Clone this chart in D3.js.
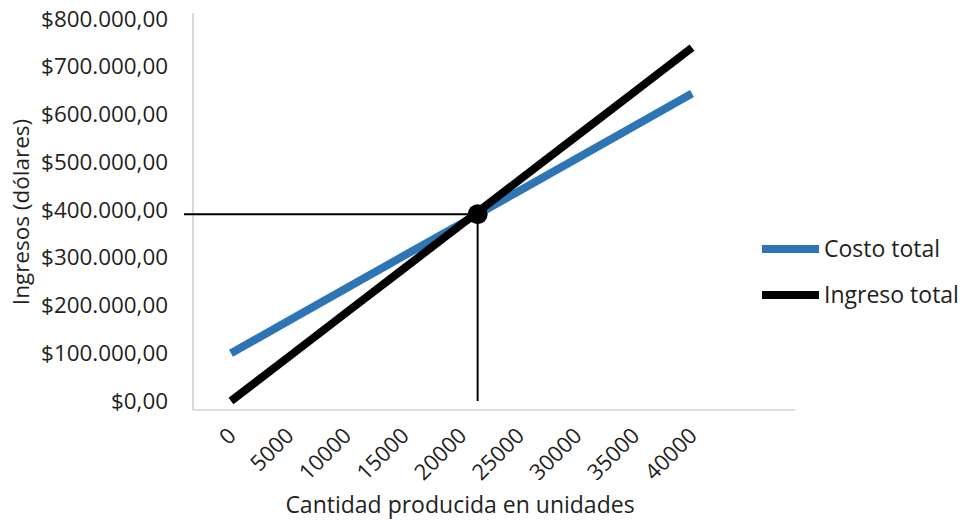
<!DOCTYPE html>
<html>
<head>
<meta charset="utf-8">
<script src="https://cdn.jsdelivr.net/npm/d3@7"></script>
<style>
  html, body { margin: 0; padding: 0; background: #fff; }
  svg { display: block; font-family: "Open Sans", "Noto Sans", sans-serif; }
</style>
</head>
<body>
<svg id="chart" width="969" height="520"></svg>
<script>
// Units produced (category axis)
const units = [0, 5000, 10000, 15000, 20000, 25000, 30000, 35000, 40000];
// Total cost in dollars at each production level
const totalCost = [100000, 168000, 236000, 304000, 372000, 440000, 508000, 576000, 644000];
// Total revenue in dollars at each production level
const totalRevenue = [0, 92500, 185000, 277500, 370000, 462500, 555000, 647500, 740000];
// Break-even point: [units, dollars]
const breakEven = [21400, 391000];
// Y axis tick values
const yTicks = [0, 100000, 200000, 300000, 400000, 500000, 600000, 700000, 800000];
const seriesNames = ["Costo total", "Ingreso total"];
const seriesColors = ["#2e75b6", "#000000"];

const svg = d3.select("#chart");

const x = d3.scalePoint().domain(units).range([231, 692]);
// Continuous position for values between categories
const xLin = d3.scaleLinear().domain([units[0], units[units.length - 1]]).range([231, 692]);
const y = d3.scaleLinear().domain([0, 800000]).range([401, 19]);

const locale = d3.formatLocale({ decimal: ",", thousands: ".", grouping: [3], currency: ["$", ""] });
const money = locale.format("$,.2f");
const textColor = "#231f20";

// Plot frame (left and bottom axis lines)
svg.append("line").attr("x1", 193).attr("x2", 193).attr("y1", 13).attr("y2", 410)
  .attr("stroke", "#bfbfbf").attr("stroke-width", 1.2);
svg.append("line").attr("x1", 193).attr("x2", 795).attr("y1", 410).attr("y2", 410)
  .attr("stroke", "#bfbfbf").attr("stroke-width", 1.2);

// Y axis labels
const yAxis = svg.append("g").attr("transform", "translate(193,0)")
  .call(d3.axisLeft(y).tickValues(yTicks).tickSize(0).tickPadding(25).tickFormat(money));
yAxis.select(".domain").remove();
yAxis.selectAll("text").attr("font-size", 22.4).attr("fill", textColor)
  .attr("font-family", "'Open Sans', sans-serif");

// X axis labels, rotated
const xAxis = svg.append("g").attr("transform", "translate(0,410)")
  .call(d3.axisBottom(x).tickSize(0).tickFormat(d => String(d)));
xAxis.select(".domain").remove();
xAxis.selectAll("text")
  .attr("font-size", 22).attr("fill", textColor)
  .attr("font-family", "'Open Sans', sans-serif")
  .attr("text-anchor", "end")
  .attr("dy", null).attr("y", 0)
  .attr("transform", "translate(6,27) rotate(-45)");

// Axis titles
svg.append("text").attr("x", 460).attr("y", 513).attr("text-anchor", "middle")
  .attr("font-size", 23).attr("fill", textColor).text("Cantidad producida en unidades");
svg.append("text").attr("transform", "translate(29,212) rotate(-90)").attr("text-anchor", "middle")
  .attr("font-size", 22.5).attr("fill", textColor).text("Ingresos (dólares)");

// Series lines
const line = d3.line().x((d, i) => x(units[i])).y(d => y(d));
[totalCost, totalRevenue].forEach((vals, k) => {
  svg.append("path").datum(vals).attr("d", line)
    .attr("fill", "none").attr("stroke", seriesColors[k]).attr("stroke-width", 8);
});

// Break-even guide lines and marker
const bx = xLin(breakEven[0]), by = y(breakEven[1]);
svg.append("line").attr("x1", 184).attr("x2", bx).attr("y1", by).attr("y2", by)
  .attr("stroke", "#000").attr("stroke-width", 2);
svg.append("line").attr("x1", bx).attr("x2", bx).attr("y1", by).attr("y2", y(0))
  .attr("stroke", "#000").attr("stroke-width", 2);
svg.append("circle").attr("cx", bx).attr("cy", by).attr("r", 10).attr("fill", "#000");

// Legend
const legend = svg.append("g");
seriesNames.forEach((name, k) => {
  const ly = 249 + k * 46;
  legend.append("line").attr("x1", 762).attr("x2", 819).attr("y1", ly).attr("y2", ly)
    .attr("stroke", seriesColors[k]).attr("stroke-width", 8);
  legend.append("text").attr("x", 824).attr("y", ly).attr("dy", "0.35em")
    .attr("font-size", 23).attr("fill", textColor).text(name);
});
</script>
</body>
</html>
